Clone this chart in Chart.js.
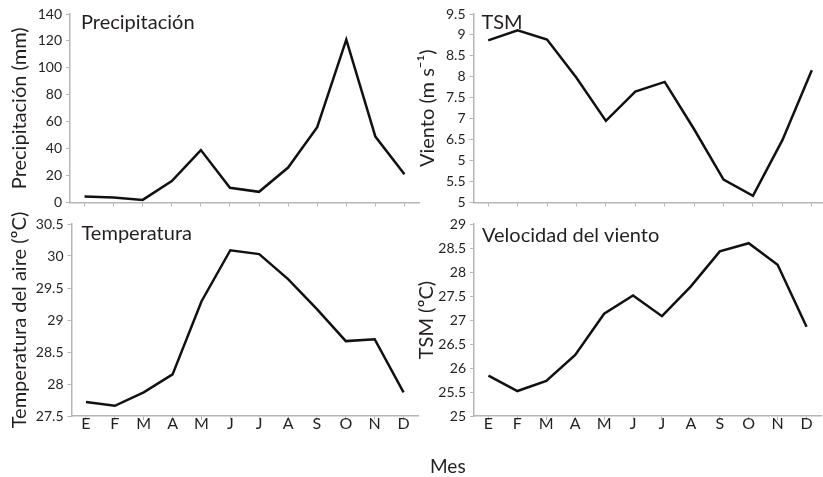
<!DOCTYPE html>
<html>
<head>
<meta charset="utf-8">
<script src="https://cdn.jsdelivr.net/npm/chart.js@4.4.1/dist/chart.umd.min.js"></script>
<style>
  html, body { margin: 0; padding: 0; background: #fff; overflow: hidden; width: 823px; height: 477px; position: relative; }
  canvas { position: absolute; }
  #mes { position: absolute; left: 430px; top: 454px; font: 19px Lato; color: #231f20; }
</style>
</head>
<body>
<canvas id="tl" width="430" height="215" style="left:0;top:0"></canvas>
<canvas id="tr" width="420" height="215" style="left:410px;top:0"></canvas>
<canvas id="bl" width="430" height="277" style="left:0;top:200px"></canvas>
<canvas id="br" width="420" height="277" style="left:410px;top:200px"></canvas>
<div id="mes">Mes</div>
<script>
const months = ["E", "F", "M", "A", "M", "J", "J", "A", "S", "O", "N", "D"];

const precip = [4.5, 3.7, 2, 16, 39, 11, 8, 26, 56, 121, 49, 21];
const viento = [8.87, 9.11, 8.89, 7.98, 6.95, 7.65, 7.88, 6.75, 5.55, 5.16, 6.49, 8.16];
const tempAire = [27.72, 27.66, 27.87, 28.15, 29.29, 30.09, 30.03, 29.64, 29.17, 28.67, 28.70, 27.87];
const tsm = [25.84, 25.52, 25.73, 26.27, 27.13, 27.51, 27.08, 27.70, 28.43, 28.60, 28.15, 26.86];

const precipTicks = ["0", "20", "40", "60", "80", "100", "120", "140"];
const vientoTicks = ["5", "5.5", "5", "6.5", "7", "7.5", "8", "8.5", "9", "9.5"];
const tempTicks = ["27.5", "28", "28.5", "29", "29.5", "30", "30.5"];
const tsmTicks = ["25", "25.5", "26", "26.5", "27", "27.5", "28", "28.5", "29"];

const INK = "#231f20";
const AXIS = "#b5b5b5";

// title text written inside the top-left corner of each plot
const panelTitle =
{
    id: "panelTitle",
    afterDraw(chart, args, opts)
    {
        const ctx = chart.ctx;
        const area = chart.chartArea;
        ctx.save();
        ctx.font = "20px Lato";
        ctx.fillStyle = INK;
        ctx.textBaseline = "alphabetic";
        ctx.fillText(opts.text, area.left + opts.dx, area.top + opts.dy);
        ctx.restore();
    }
};

function makePanel(id, values, yMin, yMax, yLabels, yTitle, title, box)
{
    const ctx = document.getElementById(id).getContext("2d");

    return new Chart(ctx,
    {
        type: "line",
        data:
        {
            labels: months,
            datasets:
            [{
                data: values,
                borderColor: "#111",
                borderWidth: 2.5,
                pointRadius: 0,
                tension: 0,
                fill: false
            }]
        },
        options:
        {
            responsive: false,
            animation: false,
            devicePixelRatio: 1,
            layout: { padding: { top: box.padTop, right: box.padRight, left: 0, bottom: 0 } },
            plugins:
            {
                legend: { display: false },
                tooltip: { enabled: false },
                panelTitle: { text: title, dx: box.dx, dy: box.dy }
            },
            scales:
            {
                x:
                {
                    offset: true,
                    ticks: { display: box.showX, autoSkip: false, maxRotation: 0, padding: -6,
                             color: INK, font: { family: "Lato", size: 16 } },
                    grid: { drawOnChartArea: false, offset: false, color: AXIS, tickLength: 4 },
                    border: { color: AXIS, width: 1.5 },
                    afterFit: (s) => { s.height = box.xHeight; }
                },
                y:
                {
                    min: yMin,
                    max: yMax,
                    ticks: { stepSize: (yMax - yMin) / (yLabels.length - 1), padding: 4,
                             color: INK, font: { family: "Lato", size: 14 },
                             callback: (v, i) => yLabels[i] },
                    grid: { drawOnChartArea: false, color: AXIS, tickLength: 4 },
                    border: { color: AXIS, width: 1.5 },
                    title: { display: true, text: yTitle, color: INK,
                             font: { family: "Lato", size: 20 },
                             padding: { top: box.titlePad, bottom: 0 } },
                    afterFit: (s) => { s.width = box.yWidth; }
                }
            }
        },
        plugins: [panelTitle]
    });
}

makePanel("tl", precip, 0, 140, precipTicks, "Precipitación (mm)", "Precipitación",
          { padTop: 14, padRight: 11, yWidth: 70, xHeight: 10, showX: false, titlePad: 8, dx: 11, dy: 15 });

makePanel("tr", viento, 5, 9.5, vientoTicks, "Viento (m s\u207B\u00B9)", "TSM",
          { padTop: 14, padRight: 3.5, yWidth: 63.5, xHeight: 10, showX: false, titlePad: 6, dx: 8, dy: 15 });

makePanel("bl", tempAire, 27.5, 30.5, tempTicks, "Temperatura del aire (ºC)", "Temperatura",
          { padTop: 24, padRight: 12, yWidth: 71.5, xHeight: 61, showX: true, titlePad: 8, dx: 10, dy: 16 });

makePanel("br", tsm, 25, 29, tsmTicks, "TSM (ºC)", "Velocidad del viento",
          { padTop: 24, padRight: 9, yWidth: 64, xHeight: 61, showX: true, titlePad: 5, dx: 8, dy: 18 });
</script>
</body>
</html>
